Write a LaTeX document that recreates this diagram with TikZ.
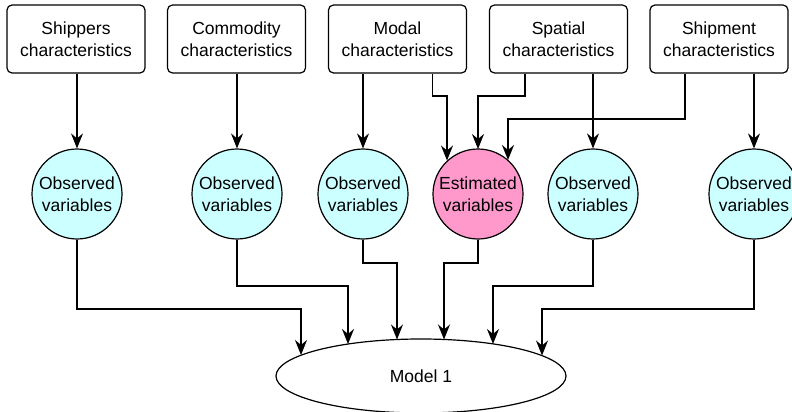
\documentclass[tikz,border=0pt]{standalone}
\usepackage{fontspec}
\setmainfont{Liberation Sans}
\usetikzlibrary{arrows.meta,shapes.geometric}
\definecolor{obsfill}{HTML}{CCFFFF}
\definecolor{estfill}{HTML}{FF99CC}
\begin{document}
\begin{tikzpicture}[x=1pt,y=-1pt,
  every node/.style={font=\fontsize{17.5}{22.5}\selectfont, align=center},
  charbox/.style={draw, line width=1.2pt, rounded corners=5pt, minimum width=138pt, minimum height=68pt, inner sep=0pt},
  varcirc/.style={draw, line width=1.2pt, circle, minimum size=90pt, inner sep=0pt},
  obs/.style={varcirc, fill=obsfill},
  est/.style={varcirc, fill=estfill},
  modelell/.style={draw, line width=1.2pt, ellipse, minimum width=290pt, minimum height=74pt, inner sep=0pt},
  arr/.style={draw, line width=1.2pt, -{Stealth[length=15pt,width=12pt,inset=5pt]}},
  ln/.style={draw, line width=1.2pt}
]
\useasboundingbox (0,0) rectangle (792,412);

\node[charbox] (b1) at (76,39) {Shippers\\characteristics};
\node[charbox] (b2) at (236.5,39) {Commodity\\characteristics};
\node[charbox] (b3) at (397.5,39) {Modal\\characteristics};
\node[charbox] (b4) at (558.5,39) {Spatial\\characteristics};
\node[charbox] (b5) at (719,39) {Shipment\\characteristics};

\node[obs] (c1) at (77,194) {Observed\\variables};
\node[obs] (c2) at (237,194) {Observed\\variables};
\node[obs] (c3) at (363,194) {Observed\\variables};
\node[est] (c4) at (478,194) {Estimated\\variables};
\node[obs] (c5) at (593,194) {Observed\\variables};
\node[obs] (c6) at (754,194) {Observed\\variables};

\node[modelell] (m) at (421,376) {Model 1};

% boxes to circles
\path[arr] (b1.south -| c1) -- (c1.north);
\path[arr] (b2.south -| c2) -- (c2.north);
\path[arr] (b3.south -| c3) -- (c3.north);
\path[arr] (b4.south -| c5) -- (c5.north);
\path[arr] (b5.south -| c6) -- (c6.north);
\coordinate (e3) at (447,160.5);
\coordinate (e4) at (478,149);
\coordinate (e5) at (508,160);
\path[arr] (b3.south -| 432.5,0) |- (440,96) -| (e3);
\path[arr] (b4.south -| 525,0) |- (500,96) -| (e4);
\path[arr] (b5.south -| 685,0) |- (600,119) -| (e5);

% circles to model
\coordinate (m1) at (301,355);
\coordinate (m2) at (348,344);
\coordinate (m3) at (397,339.5);
\coordinate (m4) at (444,339.5);
\coordinate (m5) at (493,344);
\coordinate (m6) at (542,355.5);
\path[arr] (c1.south) |- (200,309) -| (m1);
\path[arr] (c2.south) |- (300,286) -| (m2);
\path[arr] (c3.south) |- (380,263) -| (m3);
\path[arr] (c4.south) |- (460,263) -| (m4);
\path[arr] (c5.south) |- (540,286) -| (m5);
\path[arr] (c6.south) |- (640,309) -| (m6);
\end{tikzpicture}
\end{document}
